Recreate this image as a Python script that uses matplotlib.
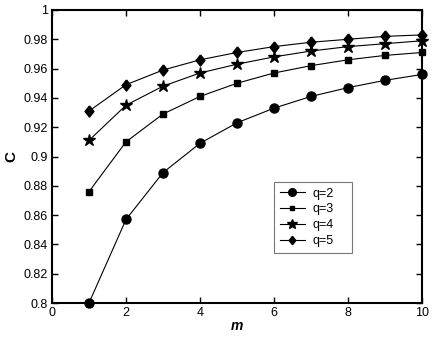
import matplotlib
matplotlib.use("Agg")
import matplotlib.pyplot as plt

plt.rcParams['font.family'] = ['Liberation Sans', 'DejaVu Sans']

m = [1, 2, 3, 4, 5, 6, 7, 8, 9, 10]
c_q2 = [0.800, 0.857, 0.889, 0.909, 0.923, 0.933, 0.941, 0.947, 0.952, 0.956]
c_q3 = [0.876, 0.910, 0.929, 0.941, 0.950, 0.957, 0.962, 0.966, 0.969, 0.971]
c_q4 = [0.911, 0.935, 0.948, 0.957, 0.963, 0.968, 0.972, 0.975, 0.977, 0.979]
c_q5 = [0.931, 0.949, 0.959, 0.966, 0.971, 0.975, 0.978, 0.980, 0.982, 0.983]
labels = ['q=2', 'q=3', 'q=4', 'q=5']
xticks = [0, 2, 4, 6, 8, 10]
yticks = [0.8, 0.82, 0.84, 0.86, 0.88, 0.9, 0.92, 0.94, 0.96, 0.98, 1]
yticklabels = ['0.8', '0.82', '0.84', '0.86', '0.88', '0.9', '0.92', '0.94', '0.96', '0.98', '1']

fig = plt.figure(figsize=(4.36, 3.38), dpi=100)
ax = fig.add_axes([52/436, 1 - 303/338, 370/436, 293/338])

diamond = [(0, 1), (0.8, 0), (0, -1), (-0.8, 0), (0, 1)]
series = [c_q2, c_q3, c_q4, c_q5]
markers = ['o', 's', '*', diamond]
sizes = [6.5, 5, 9, 8]
leg_sizes = [5.5, 2.5, 7, 6]
for ys, mk, ms, lb in zip(series, markers, sizes, labels):
    ax.plot(m, ys, color='black', lw=0.8, marker=mk, ms=ms,
            markerfacecolor='black', markeredgecolor='black', label=lb, clip_on=False)

ax.set_xlim(0, 10)
ax.set_ylim(0.8, 1)
ax.set_xticks(xticks)
ax.set_xticklabels([str(x) for x in xticks])
ax.set_yticks(yticks)
ax.set_yticklabels(yticklabels)
ax.tick_params(direction='in', top=True, right=True, labelsize=9, length=4, width=1, pad=3)
for s in ax.spines.values():
    s.set_linewidth(1.5)

ax.set_xlabel('m', fontsize=10, fontweight='bold', fontstyle='italic', labelpad=0)
ax.set_ylabel('C', fontsize=11, fontweight='bold', labelpad=4)

x0 = (274 - 52) / 370
w = 78 / 370
y_top = (303 - 182) / 293
leg = ax.legend(loc='upper left', bbox_to_anchor=(x0, y_top - 0.3, w, 0.3), mode='expand',
                fontsize=9, frameon=True, fancybox=False, edgecolor='#555555',
                handlelength=2.0, borderpad=0.45, labelspacing=0.3, handletextpad=0.6,
                borderaxespad=0)
leg.get_frame().set_linewidth(0.8)
for h, s in zip(leg.legend_handles, leg_sizes):
    h.set_markersize(s)

fig.savefig('out.png', dpi=100)
